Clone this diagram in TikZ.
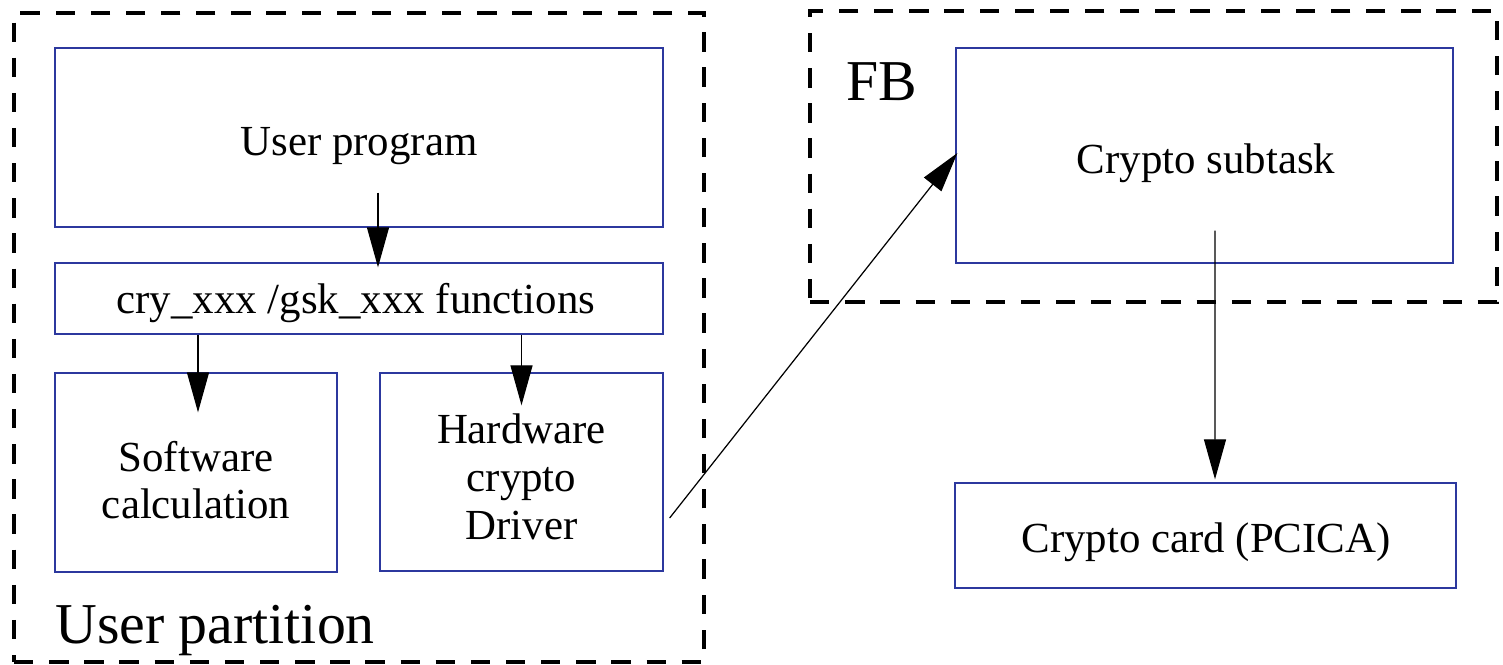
\documentclass[tikz,border=0pt]{standalone}
\usepackage{fontspec}
\setmainfont{Liberation Serif}
\usetikzlibrary{arrows.meta,calc}
\definecolor{boxblue}{RGB}{44,56,158}
\begin{document}
\begin{tikzpicture}[x=0.02cm,y=-0.02cm,
  bbox/.style={draw=boxblue,line width=0.75pt,rectangle,inner sep=0pt},
  dbox/.style={draw=black,line width=1.9pt,rectangle,inner sep=0pt,dash pattern=on 11pt off 9pt},
  txt/.style={font=\fontsize{24.4pt}{27.2pt}\selectfont,inner sep=0pt},
  bigtxt/.style={font=\fontsize{32.9pt}{36pt}\selectfont,inner sep=0pt},
  arr/.style={draw=black,line width=0.7pt,-{Triangle[length=0.8cm,width=0.44cm]}}]
\useasboundingbox (0,0) rectangle (1503,664);
% dashed containers
\node[dbox,minimum width=13.8cm,minimum height=12.98cm] (lp) at (359,337.5) {};
\node[dbox,minimum width=13.74cm,minimum height=5.82cm] (fbp) at (1153.5,156.5) {};
% boxes
\node[bbox,minimum width=12.16cm,minimum height=3.58cm] (up) at (359,137.5) {};
\node[bbox,minimum width=12.16cm,minimum height=1.42cm] (cry) at (359,298.5) {};
\node[bbox,minimum width=5.64cm,minimum height=3.98cm] (sw) at (196,472.5) {};
\node[bbox,minimum width=5.66cm,minimum height=3.96cm] (hw) at (521.5,472) {};
\node[bbox,minimum width=9.94cm,minimum height=4.3cm] (st) at (1204.5,155.5) {};
\node[bbox,minimum width=10.02cm,minimum height=2.1cm] (card) at (1205.5,535.5) {};
% texts
\node[txt,anchor=base] (upt) at (359,155) {User program};
\node[txt,anchor=base] (cryt) at (356,313) {cry\_xxx /gsk\_xxx functions};
\node[txt,align=center] (swt) at (196,480) {Software\\calculation};
\node[txt,align=center] (hwt) at (521.5,477) {Hardware\\crypto\\Driver};
\node[txt,anchor=base] (stt) at (1206,173) {Crypto subtask};
\node[txt,anchor=base] (cardt) at (1206,552) {Crypto card (PCICA)};
\node[bigtxt,anchor=base west] (fbt) at (846,100) {FB};
\node[bigtxt,anchor=base west] (upl) at (55,643) {User partition};
% connectors
\draw[arr] ([xshift=0.38cm,yshift=0.7cm]up.south) -- ([xshift=0.38cm,yshift=-0.1cm]cry.north);
\draw[arr] ([xshift=0.04cm]sw.north |- cry.south) -- ([xshift=0.04cm,yshift=-0.8cm]sw.north);
\draw[arr] (hw.north |- cry.south) -- ([yshift=-0.66cm]hw.north);
\draw[arr] ([xshift=0.12cm,yshift=-0.92cm]hw.east) -- ([xshift=0.04cm,yshift=0.05cm]st.west);
\draw[arr] ([xshift=0.21cm,yshift=0.66cm]st.south) -- ([xshift=0.19cm,yshift=0.06cm]card.north);
\end{tikzpicture}
\end{document}
